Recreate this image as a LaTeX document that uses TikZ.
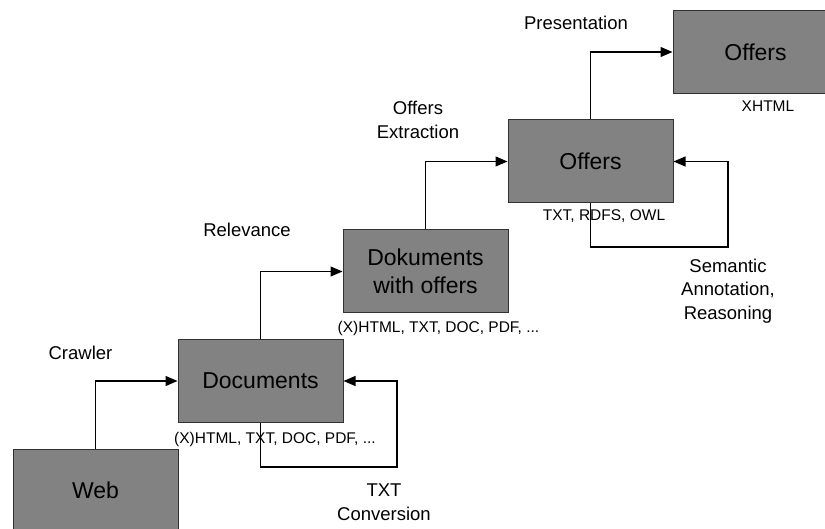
\documentclass[tikz,border=0pt]{standalone}
\usepackage{fontspec}
\setmainfont{Liberation Sans}
\usetikzlibrary{arrows.meta}
\definecolor{boxfill}{RGB}{130,130,130}
\definecolor{boxline}{RGB}{50,50,50}
\tikzset{
  stagebox/.style={draw=boxline, line width=1pt, fill=boxfill, minimum width=165pt, minimum height=83pt, inner sep=0pt, align=center, font=\fontsize{23}{28}\selectfont},
  lbl/.style={inner sep=0pt, align=center, font=\fontsize{18.5}{23.5}\selectfont},
  fmt/.style={inner sep=0pt, font=\fontsize{15.5}{18}\selectfont},
  arr/.style={line width=1.1pt, -{Triangle[length=12pt,width=10pt]}},
}
\begin{document}
\begin{tikzpicture}[x=1pt,y=-1pt]
\useasboundingbox (0,0) rectangle (825,529);
\clip (0,0) rectangle (825,529);
\node[stagebox] (web) at (95.5,490.5) {Web};
\node[stagebox] (docs) at (260.5,381) {Documents};
\node[stagebox] (dwo) at (425.5,271.5) {Dokuments\\with offers};
\node[stagebox] (off) at (590.5,161.5) {Offers};
\node[stagebox] (off2) at (755.5,52) {Offers};

\node[lbl] (crawler) at (80.5,353) {Crawler};
\node[lbl] (relev) at (247,230) {Relevance};
\node[lbl] (extr) at (418,120) {Offers\\Extraction};
\node[lbl] (pres) at (576,23) {Presentation};
\node[lbl] (txtconv) at (384,502) {TXT\\Conversion};
\node[lbl] (sem) at (728,291) {Semantic\\Annotation,\\Reasoning};

\node[fmt] (f1) at (275,439) {(X)HTML, TXT, DOC, PDF, ...};
\node[fmt] (f2) at (438.5,328) {(X)HTML, TXT, DOC, PDF, ...};
\node[fmt] (f3) at (604,216) {TXT, RDFS, OWL};
\node[fmt] (f4) at (768,106) {XHTML};

\coordinate (l1) at (397,467);
\coordinate (l2) at (728,247);

\draw[arr] (web.north) |- (docs.west);
\draw[arr] (docs.north) |- (dwo.west);
\draw[arr] (dwo.north) |- (off.west);
\draw[arr] (off.north) |- (off2.west);
\draw[arr] (docs.south) |- (l1) |- (docs.east);
\draw[arr] (off.south) |- (l2) |- (off.east);
\end{tikzpicture}
\end{document}
